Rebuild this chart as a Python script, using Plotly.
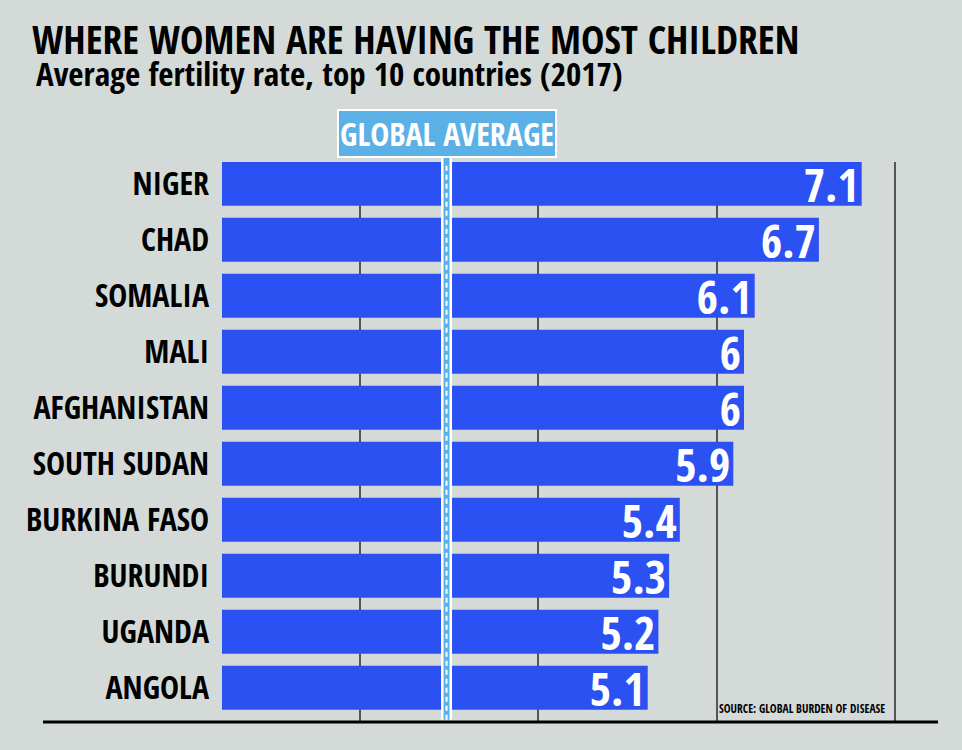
import plotly.graph_objects as go

# ---- data ----
countries = ["NIGER", "CHAD", "SOMALIA", "MALI", "AFGHANISTAN", "SOUTH SUDAN",
             "BURKINA FASO", "BURUNDI", "UGANDA", "ANGOLA"]
fertility = [7.1, 6.7, 6.1, 6, 6, 5.9, 5.4, 5.3, 5.2, 5.1]
bar_labels = ["7.1", "6.7", "6.1", "6", "6", "5.9", "5.4", "5.3", "5.2", "5.1"]

title_text = "WHERE WOMEN ARE HAVING THE MOST CHILDREN"
subtitle_text = "Average fertility rate, top 10 countries (2017)"
global_label = "GLOBAL AVERAGE"
source_text = "SOURCE: GLOBAL BURDEN OF DISEASE"

# ---- style / layout constants ----
BG = "#d4dad8"
BAR = "#2c51f2"
LIGHT_BLUE = "#5bb1e6"
COND = "Open Sans Condensed, Roboto Condensed, Liberation Sans"

W, H = 962, 750
M_L, M_R, M_T, M_B = 222, 24, 162, 28
X_RANGE = [1.1215, 7.813]
GRID_TICK0, GRID_DTICK = 2.411, 1.667
GLOBAL_LINE_X = 3.22  # horizontal position of the (not-to-scale) global-average marker

plot_w = W - M_L - M_R

fig = go.Figure()
fig.add_trace(go.Bar(
    x=fertility, y=countries, orientation="h",
    marker=dict(color=BAR, line=dict(width=0)),
    text=bar_labels, textposition="inside", insidetextanchor="end", textangle=0,
    constraintext="none", cliponaxis=True,
    textfont=dict(family=COND, size=46, color="white", weight=800),
    hoverinfo="skip",
))

fig.add_shape(type="line", xref="x", yref="paper", x0=GLOBAL_LINE_X, x1=GLOBAL_LINE_X,
              y0=0.004, y1=1.01, line=dict(color="white", width=11), layer="above")
fig.add_shape(type="line", xref="x", yref="paper", x0=GLOBAL_LINE_X, x1=GLOBAL_LINE_X,
              y0=0.004, y1=1.01, line=dict(color=LIGHT_BLUE, width=6), layer="above")
fig.add_shape(type="line", xref="x", yref="paper", x0=GLOBAL_LINE_X, x1=GLOBAL_LINE_X,
              y0=0.004, y1=1.0, line=dict(color="white", width=2, dash="5px,4px"), layer="above")
fig.add_annotation(x=GLOBAL_LINE_X, xref="x", y=1, yref="paper", yanchor="bottom", yshift=4,
                   text=global_label, showarrow=False,
                   font=dict(family=COND, size=32, color="white", weight="bold"),
                   bgcolor=LIGHT_BLUE, bordercolor="white", borderwidth=2, borderpad=1)

fig.add_shape(type="line", xref="paper", yref="paper", x0=(43 - M_L) / plot_w, x1=1.0,
              y0=0, y1=0, line=dict(color="black", width=3), layer="above")

fig.add_annotation(xref="paper", yref="paper", x=(30 - M_L) / plot_w, y=1.22,
                   xanchor="left", yanchor="middle", showarrow=False, text=title_text,
                   font=dict(family=COND, size=39.5, color="black", weight=800))
fig.add_annotation(xref="paper", yref="paper", x=(34 - M_L) / plot_w, y=1.158,
                   xanchor="left", yanchor="middle", showarrow=False, text=subtitle_text,
                   font=dict(family=COND, size=33, color="black", weight="bold"))
fig.add_annotation(xref="paper", yref="paper", x=(887 - M_L) / plot_w, y=0.024,
                   xanchor="right", yanchor="middle", showarrow=False, text=source_text,
                   font=dict(family=COND, size=11.5, color="black", weight="bold"))

fig.update_layout(
    width=W, height=H,
    margin=dict(l=M_L, r=M_R, t=M_T, b=M_B, pad=0, autoexpand=False),
    paper_bgcolor=BG, plot_bgcolor=BG,
    showlegend=False, bargap=0.214,
    xaxis=dict(range=X_RANGE, showticklabels=False, ticks="", zeroline=False,
               showgrid=True, gridcolor="#555555", gridwidth=1.5, automargin=False,
               tick0=GRID_TICK0, dtick=GRID_DTICK, showline=False, fixedrange=True),
    yaxis=dict(categoryorder="array", categoryarray=countries, range=[9.61, -0.39],
               showgrid=False, zeroline=False, showline=False, ticks="", automargin=False,
               ticklabelstandoff=12,
               tickfont=dict(family=COND, size=32, color="black", weight="bold"),
               fixedrange=True),
)

fig.write_html("out.html", config={"displayModeBar": False},
               post_script="document.body.style.margin='0';")
